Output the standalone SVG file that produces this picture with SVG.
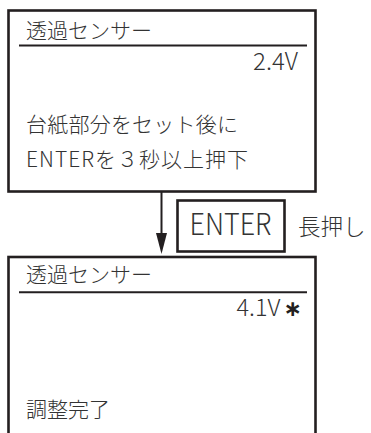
<svg xmlns="http://www.w3.org/2000/svg" width="371" height="433" viewBox="0 0 371 433">
<style>
.box{fill:#fff;stroke:#231f20;stroke-width:2.6}
.sep{stroke:#231f20;stroke-width:2}
.t{font-family:"Noto Sans CJK JP","Noto Sans",sans-serif;font-weight:300;fill:#333}
.conn{stroke:#231f20;stroke-width:2;fill:none}
</style>
<rect width="371" height="433" fill="#fff"/>
<g id="screen1">
<rect class="box" x="8.5" y="10.5" width="307" height="181"/>
<line class="sep" x1="19" y1="45.5" x2="307" y2="45.5"/>
<text class="t" x="26" y="37.5" font-size="21">透過センサー</text>
<text class="t" x="298" y="70" font-size="24" text-anchor="end">2.4V</text>
<text class="t" x="26" y="131.5" font-size="21" textLength="212" lengthAdjust="spacing">台紙部分をセット後に</text>
<text class="t" x="26" y="166.5" font-size="21" textLength="222" lengthAdjust="spacing">ENTERを３秒以上押下</text>
</g>
<g id="connectors">
<line class="conn" x1="161.5" y1="192" x2="161.5" y2="236"/>
<polygon points="156,233 167,233 161.5,254" fill="#231f20"/>
</g>
<g id="enter-key">
<rect class="box" x="177.5" y="200.5" width="107" height="51"/>
<text class="t" x="189.5" y="235" font-size="30" textLength="82" lengthAdjust="spacingAndGlyphs">ENTER</text>
<text class="t" x="298" y="235" font-size="22.5">長押し</text>
</g>
<g id="screen2">
<rect class="box" x="8.5" y="257" width="307" height="190"/>
<line class="sep" x1="19" y1="292.3" x2="307" y2="292.3"/>
<text class="t" x="26" y="282" font-size="21">透過センサー</text>
<text class="t" x="280.5" y="315.5" font-size="23.5" text-anchor="end">4.1V</text>
<text x="283.5" y="316" font-size="22" font-family="DejaVu Sans" font-weight="700" fill="#231f20">∗</text>
<text class="t" x="26" y="417" font-size="21">調整完了</text>
</g>
</svg>
